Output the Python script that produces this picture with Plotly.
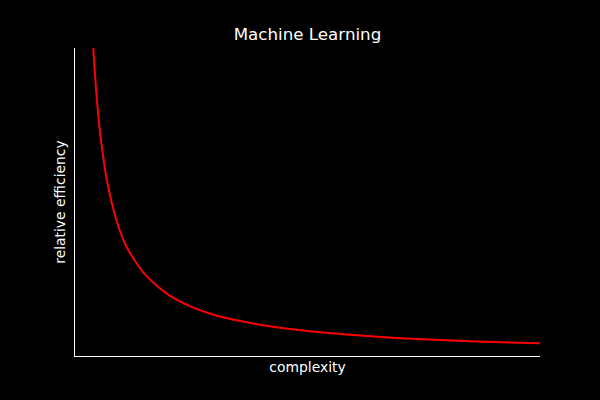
import plotly.graph_objects as go

complexity = [0.36, 0.39, 0.45, 0.53, 0.60, 0.68, 0.80, 0.96, 1.10, 1.32, 1.50, 1.82,
              2.10, 2.53, 3.0, 3.5, 4.0, 5.0, 6.0, 7.0, 8.0, 9.0, 10.0]
efficiency = [10.89, 10.04, 8.71, 7.38, 6.53, 5.75, 4.91, 4.09, 3.57, 3.02, 2.66, 2.21,
              1.90, 1.58, 1.33, 1.15, 1.01, 0.81, 0.68, 0.58, 0.51, 0.455, 0.41]

title_text = "Machine Learning"
x_label = "complexity"
y_label = "relative efficiency"

fig = go.Figure()
fig.add_trace(go.Scatter(x=complexity, y=efficiency, mode="lines",
                         line=dict(color="#ff0000", width=2, shape="spline", smoothing=0.8),
                         hoverinfo="skip"))

fig.update_layout(
    width=600, height=400,
    paper_bgcolor="black", plot_bgcolor="black",
    margin=dict(l=75, r=60, t=48, b=44),
    font=dict(family="DejaVu Sans", color="white", size=14),
    showlegend=False,
    title=dict(text=title_text, x=0.5125, xanchor="center", y=1 - 34 / 400, yanchor="middle",
               font=dict(size=16.7, color="white", family="DejaVu Sans")),
    xaxis=dict(range=[0, 10], showgrid=False, zeroline=False, showticklabels=False,
               ticks="", showline=True, linecolor="white", linewidth=1,
               title=dict(text=x_label, standoff=6, font=dict(size=13.9))),
    yaxis=dict(range=[0, 10], showgrid=False, zeroline=False, showticklabels=False,
               ticks="", showline=True, linecolor="white", linewidth=1,
               title=dict(text=y_label, standoff=5, font=dict(size=13.9))),
)

fig.write_html("out.html", config={"displayModeBar": False},
               post_script="document.body.style.margin='0';document.body.style.background='black';")
